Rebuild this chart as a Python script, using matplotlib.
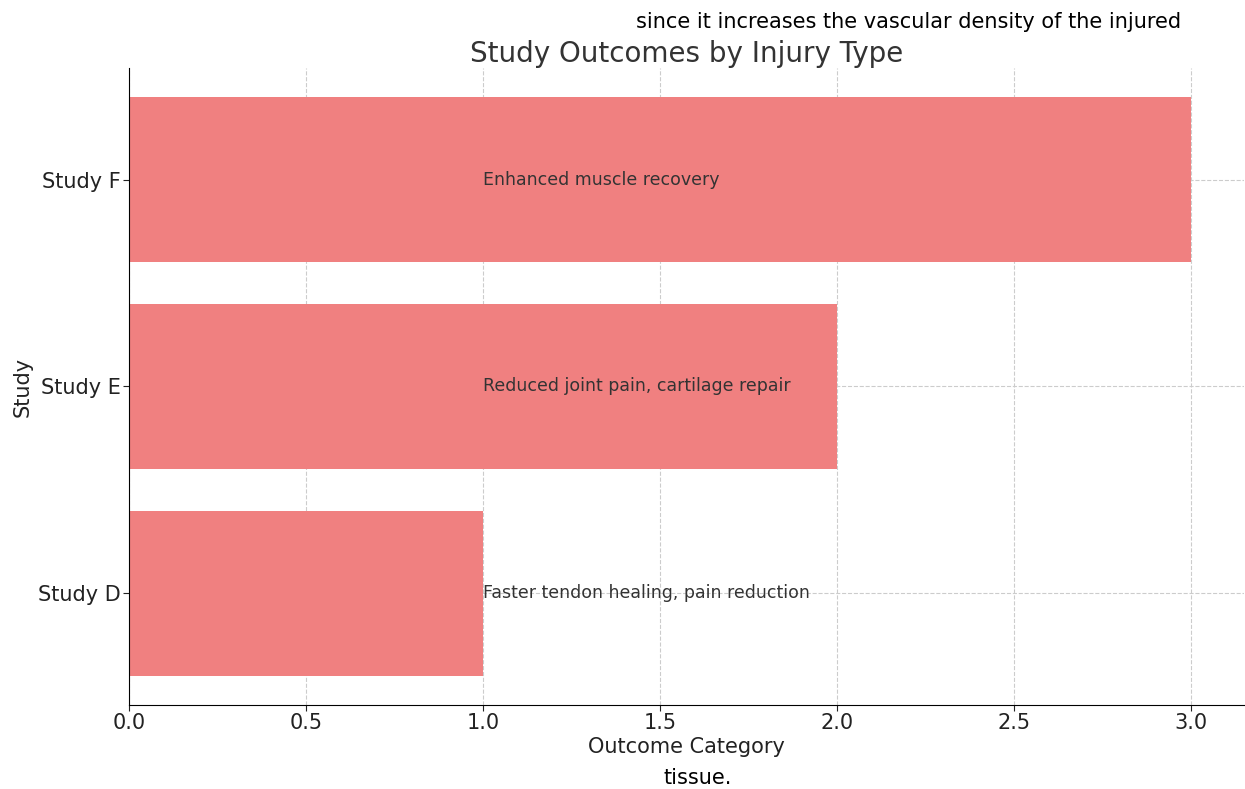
import matplotlib
matplotlib.use("Agg")
import matplotlib.pyplot as plt

# Data
studies = ["Study D", "Study E", "Study F"]
outcome_category = [1, 2, 3]
outcomes = [
    "Faster tendon healing, pain reduction",
    "Reduced joint pain, cartilage repair",
    "Enhanced muscle recovery",
]

fig = plt.figure(figsize=(12.45, 7.89), dpi=100)
ax = fig.add_axes([0.104, 0.1065, 0.895, 0.8073])

ax.barh(studies, outcome_category, color="lightcoral", height=0.8, zorder=2)

# Outcome text at x=1 for every bar
for i, txt in enumerate(outcomes):
    ax.text(1.0, i, txt, ha="left", va="center", fontsize=12.5, color="#333333", zorder=3)

ax.set_title("Study Outcomes by Injury Type", fontsize=20, color="#333333", pad=4)
ax.set_xlabel("Outcome Category", fontsize=15, color="#222222", labelpad=3)
ax.set_ylabel("Study", fontsize=15, color="#222222", labelpad=4)
ax.tick_params(labelsize=15, colors="#222222", length=4, pad=2)
ax.grid(True, linestyle="--", color="#cccccc", linewidth=0.8, zorder=0)
ax.spines["top"].set_visible(False)
ax.spines["right"].set_visible(False)
ax.set_axisbelow(True)

# stray text from the source document
fig.text(0.9485, 0.972, "since it increases the vascular density of the injured",
         ha="right", va="center", fontsize=15, family="Liberation Sans Narrow")
fig.text(0.56, 0.014, "tissue.", ha="center", va="center", fontsize=15,
         family="Liberation Sans Narrow")

fig.savefig("out.png", dpi=100)
